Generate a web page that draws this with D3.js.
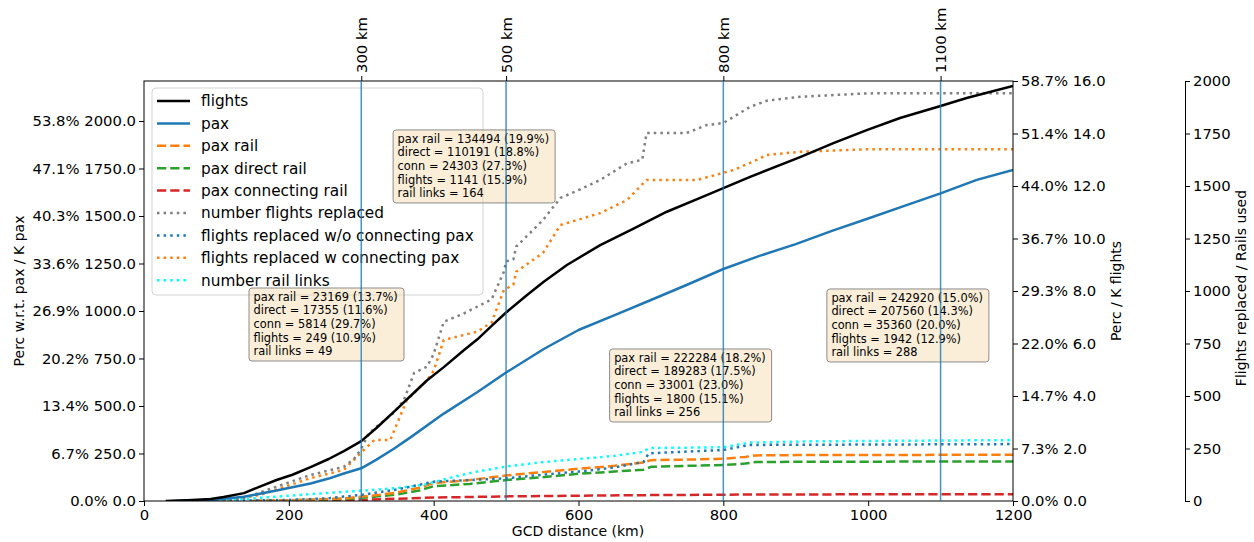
<!DOCTYPE html>
<html><head><meta charset="utf-8">
<script src="https://cdn.jsdelivr.net/npm/d3@7"></script>
<style>
body{margin:0;background:#fff}
text{font-family:"DejaVu Sans",sans-serif;fill:#000}
</style>
</head><body>
<svg id="c" width="1254" height="542"></svg>
<script>
// ---------------- DATA ----------------
// [km, thousand flights]  (right axis "Perc / K flights")
const flightsK = [[30,0],[60,0.03],[92,0.08],[110,0.15],[138,0.3],[160,0.55],[183,0.8],[205,1.0],[230,1.29],[255,1.6],[276,1.9],[300,2.28],[321,2.78],[349,3.5],[368,4.0],[391,4.6],[414,5.1],[442,5.75],[460,6.15],[483,6.75],[500,7.18],[529,7.85],[552,8.35],[584,8.99],[630,9.75],[676,10.38],[722,11.02],[768,11.55],[800,11.92],[837,12.35],[906,13.1],[952,13.63],[998,14.13],[1044,14.59],[1100,15.05],[1136,15.35],[1200,15.81]];
// [km, thousand pax]  (left axis "Perc w.r.t. pax / K pax")
const paxK = [[40,0],[92,5],[138,22],[183,55],[230,92],[255,118],[276,145],[300,172],[321,218],[345,275],[368,335],[414,460],[460,572],[500,676],[552,800],[600,900],[650,978],[700,1058],[750,1138],[800,1221],[850,1290],[900,1352],[950,1422],[1000,1487],[1050,1553],[1100,1619],[1150,1690],[1200,1742]];
const paxRailK = [[150,0],[200,4],[250,10],[280,15],[300,23.2],[320,30],[350,45],[380,70],[400,95],[450,110],[500,134.5],[550,152],[600,170],[650,185],[690,203],[700,215],[750,218],[800,222.3],[830,232],[845,240],[900,241.5],[1100,242.9],[1200,243.5]];
const paxDirectK = [[150,0],[200,3],[250,8],[280,12],[300,17.4],[320,23],[350,35],[380,55],[400,78],[450,90],[500,110.2],[550,125],[600,143],[650,155],[690,165],[700,180],[750,185],[800,189.3],[830,197],[845,205],[900,206.5],[1100,207.6],[1200,208]];
const paxConnK = [[150,0],[200,1],[250,3],[300,5.8],[350,12],[400,18],[450,21],[500,24.3],[600,28],[700,31],[800,33],[850,34.5],[1100,35.4],[1200,35.6]];
// [km, count]  (third axis "Flights replaced / Rails used")
const flightsReplaced = [[100,0],[138,14],[183,68],[230,124],[276,163],[290,200],[300,249],[310,320],[321,354],[345,420],[359,481],[373,610],[391,640],[400,700],[414,854],[440,890],[460,925],[480,960],[497,1092],[500,1141],[510,1150],[514,1211],[551,1338],[575,1443],[600,1480],[630,1529],[667,1608],[688,1625],[694,1752],[749,1752],[777,1790],[800,1800],[837,1877],[860,1906],[906,1925],[998,1941],[1100,1942],[1200,1942]];
const replacedNoConn = [[100,0],[200,5],[250,12],[300,29],[350,55],[400,92],[450,100],[500,108],[550,125],[600,140],[650,160],[690,187],[697,227],[800,243],[836,267],[1200,271]];
const replacedConn = [[100,0],[161,29],[230,109],[276,148],[299,228],[318,290],[340,290],[363,481],[391,576],[400,620],[414,767],[460,806],[480,850],[497,1005],[510,1030],[514,1092],[551,1181],[575,1314],[630,1371],[667,1433],[694,1529],[764,1529],[814,1576],[846,1624],[860,1648],[906,1663],[998,1675],[1200,1675]];
const railLinks = [[60,0],[115,5],[180,20],[240,35],[300,49],[350,62],[385,76],[429,116],[460,140],[500,164],[550,185],[600,200],[650,215],[690,235],[697,252],[800,256],[836,278],[920,284],[1100,288],[1200,290]];

const xTicks = [0,200,400,600,800,1000,1200];
const leftTickVals = [0,250,500,750,1000,1250,1500,1750,2000];
const leftTickLabels = ["0.0% 0.0","6.7% 250.0","13.4% 500.0","20.2% 750.0","26.9% 1000.0","33.6% 1250.0","40.3% 1500.0","47.1% 1750.0","53.8% 2000.0"];
const rightTickVals = [0,2,4,6,8,10,12,14,16];
const rightTickLabels = ["0.0% 0.0","7.3% 2.0","14.7% 4.0","22.0% 6.0","29.3% 8.0","36.7% 10.0","44.0% 12.0","51.4% 14.0","58.7% 16.0"];
const thirdTickVals = [0,250,500,750,1000,1250,1500,1750,2000];
const thirdTickLabels = ["0","250","500","750","1000","1250","1500","1750","2000"];
const markKm = [300,500,800,1100];
const markLabels = ["300 km","500 km","800 km","1100 km"];

// annotation boxes: anchor (km of left edge, left-axis value of top edge) + text
const boxKm = [145,344,643,943];
const boxTop = [1121,1953,800,1116];
const boxTexts = [
 ["pax rail = 23169 (13.7%)","direct = 17355 (11.6%)","conn = 5814 (29.7%)","flights = 249 (10.9%)","rail links = 49"],
 ["pax rail = 134494 (19.9%)","direct = 110191 (18.8%)","conn = 24303 (27.3%)","flights = 1141 (15.9%)","rail links = 164"],
 ["pax rail = 222284 (18.2%)","direct = 189283 (17.5%)","conn = 33001 (23.0%)","flights = 1800 (15.1%)","rail links = 256"],
 ["pax rail = 242920 (15.0%)","direct = 207560 (14.3%)","conn = 35360 (20.0%)","flights = 1942 (12.9%)","rail links = 288"]
];

// ---------------- CHART ----------------
const L=144, R=1013, T=81, B=501;
const svg = d3.select("#c");
const x = d3.scaleLinear([0,1200],[L,R]);
const yL = d3.scaleLinear([0,2210.5],[B,T]);
const yR = d3.scaleLinear([0,16],[B,T]);
const yT = d3.scaleLinear([0,2000],[B,T]);

const series = [
  {name:"pax connecting rail", data:paxConnK, y:yL, color:"#d62728", dash:"9.25,4", w:2.5},
  {name:"pax direct rail", data:paxDirectK, y:yL, color:"#2ca02c", dash:"9.25,4", w:2.5},
  {name:"pax rail", data:paxRailK, y:yL, color:"#ff7f0e", dash:"9.25,4", w:2.5},
  {name:"number rail links", data:railLinks, y:yT, color:"#00ffff", dash:"2.5,4.1", w:2.5},
  {name:"flights replaced w/o connecting pax", data:replacedNoConn, y:yT, color:"#1f77b4", dash:"2.5,4.1", w:2.5},
  {name:"flights replaced w connecting pax", data:replacedConn, y:yT, color:"#ff7f0e", dash:"2.5,4.1", w:2.5},
  {name:"number flights replaced", data:flightsReplaced, y:yT, color:"#7f7f7f", dash:"2.5,4.1", w:2.5},
  {name:"pax", data:paxK, y:yL, color:"#1f77b4", dash:null, w:2.5},
  {name:"flights", data:flightsK, y:yR, color:"#000000", dash:null, w:2.5}
];

const plot = svg.append("g");
plot.append("clipPath").attr("id","clp").append("rect").attr("x",L).attr("y",T).attr("width",R-L).attr("height",B-T);
const lg = plot.append("g").attr("clip-path","url(#clp)");
series.forEach(s=>{
  const line = d3.line().x(d=>x(d[0])).y(d=>s.y(d[1]));
  lg.append("path").datum(s.data).attr("d",line)
    .attr("fill","none").attr("stroke",s.color).attr("stroke-width",s.w)
    .attr("stroke-dasharray",s.dash).attr("stroke-linejoin","round");
});

// axes
const fs = "14.8px";
function styleAxis(g){ g.selectAll("text").style("font-size",fs).style("font-family","DejaVu Sans"); g.selectAll("line").attr("stroke","#000"); }
const gx = svg.append("g").attr("transform",`translate(0,${B})`)
  .call(d3.axisBottom(x).tickValues(xTicks).tickSize(5).tickPadding(3).tickFormat(d3.format("d")));
gx.select(".domain").remove(); styleAxis(gx);
const gl = svg.append("g").attr("transform",`translate(${L},0)`)
  .call(d3.axisLeft(yL).tickValues(leftTickVals).tickSize(5).tickPadding(3).tickFormat((d,i)=>leftTickLabels[i]));
gl.select(".domain").remove(); styleAxis(gl);
const gr = svg.append("g").attr("transform",`translate(${R},0)`)
  .call(d3.axisRight(yR).tickValues(rightTickVals).tickSize(5).tickPadding(3).tickFormat((d,i)=>rightTickLabels[i]));
gr.select(".domain").remove(); styleAxis(gr);
const g3 = svg.append("g").attr("transform",`translate(1185,0)`)
  .call(d3.axisRight(yT).tickValues(thirdTickVals).tickSizeOuter(0).tickSize(5).tickPadding(3).tickFormat((d,i)=>thirdTickLabels[i]));
g3.select(".domain").attr("stroke","#000"); styleAxis(g3);
const gt = svg.append("g").attr("transform",`translate(0,${T})`)
  .call(d3.axisTop(x).tickValues(markKm).tickSize(5).tickFormat((d,i)=>markLabels[i]));
gt.select(".domain").remove(); styleAxis(gt);
gt.selectAll(".tick text").attr("transform","rotate(-90)").attr("text-anchor","start")
  .attr("x",8).attr("y",0).attr("dy","0.35em");

// frame
svg.append("rect").attr("x",L).attr("y",T).attr("width",R-L).attr("height",B-T)
  .attr("fill","none").attr("stroke","#000").attr("stroke-width",1);

// axis titles
svg.append("text").attr("x",578).attr("y",536).attr("text-anchor","middle").style("font-size","14px").text("GCD distance (km)");
svg.append("text").attr("transform","translate(24,291) rotate(-90)").attr("text-anchor","middle").style("font-size","14px").text("Perc w.r.t. pax / K pax");
svg.append("text").attr("transform","translate(1121,291) rotate(-90)").attr("text-anchor","middle").style("font-size","14px").text("Perc / K flights");
svg.append("text").attr("transform","translate(1246,288) rotate(-90)").attr("text-anchor","middle").style("font-size","14px").text("Flights replaced / Rails used");

// legend
const legOrder = ["flights","pax","pax rail","pax direct rail","pax connecting rail","number flights replaced","flights replaced w/o connecting pax","flights replaced w connecting pax","number rail links"];
const leg = svg.append("g");
leg.append("rect").attr("x",152).attr("y",88).attr("width",331).attr("height",207).attr("rx",4)
  .attr("fill","#fff").attr("fill-opacity",0.8).attr("stroke","#d3d3d3");
legOrder.forEach((n,i)=>{
  const s = series.find(d=>d.name===n);
  const yy = 101 + i*22.4;
  leg.append("line").attr("x1",157).attr("x2",190).attr("y1",yy).attr("y2",yy)
    .attr("stroke",s.color).attr("stroke-width",s.w).attr("stroke-dasharray",s.dash);
  leg.append("text").attr("x",201).attr("y",yy).attr("dy","0.35em").style("font-size","15.3px").text(n);
});

// annotation boxes
const boxW = [155,162,162,162];
boxTexts.forEach((lines,k)=>{
  const bx = x(boxKm[k]), by = yL(boxTop[k]);
  const g = svg.append("g");
  g.append("rect").attr("x",bx).attr("y",by).attr("width",boxW[k]).attr("height",73).attr("rx",3)
   .attr("fill","#f5deb3").attr("fill-opacity",0.5).attr("stroke","#8c8c8c").attr("stroke-width",1);
  lines.forEach((t,j)=>{
    g.append("text").attr("x",bx+4.5).attr("y",by+8.7+j*13.7).attr("dy","0.35em")
      .style("font-size","11.4px").text(t);
  });
});

// vertical marker lines (drawn on top)
svg.append("g").selectAll("line").data(markKm).join("line")
  .attr("x1",d=>x(d)).attr("x2",d=>x(d)).attr("y1",T).attr("y2",B)
  .attr("stroke","#1f77b4").attr("stroke-opacity",0.8).attr("stroke-width",1.5);
</script>
</body></html>
